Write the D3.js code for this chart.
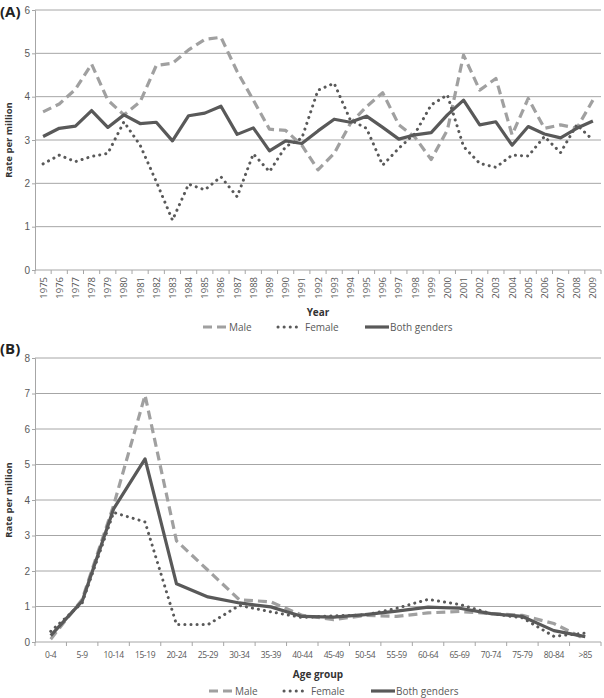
<!DOCTYPE html>
<html><head><meta charset="utf-8">
<script src="https://cdn.jsdelivr.net/npm/d3@7"></script>
<style>body{margin:0;background:#fff}svg{display:block;font-family:"Open Sans","DejaVu Sans",sans-serif}</style>
</head><body><svg id="c" width="604" height="698"></svg>
<script>
const years = d3.range(1975, 2010).map(String);
const maleA = [3.65,3.83,4.17,4.75,3.92,3.58,3.88,4.72,4.77,5.08,5.32,5.37,4.58,3.92,3.25,3.22,2.88,2.31,2.69,3.38,3.77,4.09,3.35,3.06,2.55,3.23,4.96,4.15,4.42,3.12,3.96,3.27,3.35,3.27,3.92];
const femaleA = [2.45,2.65,2.5,2.62,2.69,3.42,2.88,2.04,1.15,1.98,1.85,2.15,1.69,2.68,2.27,2.85,3.04,4.15,4.31,3.46,3.27,2.42,2.81,3.15,3.81,4.04,2.85,2.46,2.37,2.65,2.63,3.08,2.71,3.35,3.0];
const bothA = [3.08,3.27,3.32,3.68,3.29,3.58,3.38,3.41,2.98,3.56,3.62,3.78,3.13,3.28,2.75,2.98,2.92,3.21,3.48,3.41,3.55,3.29,3.02,3.12,3.17,3.58,3.92,3.35,3.42,2.88,3.31,3.14,3.05,3.27,3.44];
const yTicksA = [0,1,2,3,4,5,6];

const ages = ["0-4","5-9","10-14","15-19","20-24","25-29","30-34","35-39","40-44","45-49","50-54","55-59","60-64","65-69","70-74","75-79","80-84",">85"];
const maleB = [0.08,1.2,3.85,6.95,2.85,2.02,1.19,1.13,0.75,0.63,0.75,0.72,0.82,0.86,0.8,0.75,0.52,0.08];
const femaleB = [0.3,1.1,3.65,3.38,0.49,0.49,1.03,0.85,0.69,0.74,0.76,0.95,1.2,1.06,0.8,0.68,0.16,0.25];
const bothB = [0.18,1.15,3.75,5.16,1.64,1.27,1.1,0.99,0.72,0.7,0.77,0.87,0.98,0.95,0.8,0.72,0.32,0.15];
const yTicksB = [0,1,2,3,4,5,6,7,8];

const seriesNames = ["Male","Female","Both genders"];
const svg = d3.select("#c");

const styles = {
  "Male": {stroke:"#a0a0a0", width:3.2, dash:"9,5", cap:"butt"},
  "Female": {stroke:"#595959", width:3, dash:"0.1,6", cap:"round"},
  "Both genders": {stroke:"#595959", width:3.2, dash:null, cap:"butt"}
};

function panel(o){
  const g = svg.append("g");
  const x = d3.scaleBand().domain(o.cats).range([o.x0,o.x1]).padding(0);
  const y = d3.scaleLinear().domain([0,o.ymax]).range([o.y0,o.y1]);
  g.selectAll(".grid").data(o.yticks.filter(t=>t>0)).join("line")
    .attr("x1",o.x0).attr("x2",o.x1).attr("y1",d=>y(d)).attr("y2",d=>y(d))
    .attr("stroke","#a6a6a6").attr("stroke-width",1);
  const ya = d3.axisLeft(y).tickValues(o.yticks).tickSize(3).tickFormat(d3.format("d"));
  const yg = g.append("g").attr("transform",`translate(${o.x0},0)`).call(ya);
  yg.select(".domain").attr("stroke","#a6a6a6");
  yg.selectAll(".tick line").attr("stroke","#a6a6a6");
  yg.selectAll(".tick text").attr("fill","#595959").attr("font-size",10).attr("x",-5);
  const xg = g.append("g").attr("transform",`translate(0,${o.y0})`);
  xg.append("line").attr("x1",o.x0).attr("x2",o.x1).attr("stroke","#a6a6a6");
  const bounds = o.cats.map(c=>x(c)).concat([o.x1]);
  xg.selectAll(".xt").data(bounds).join("line").attr("x1",d=>d).attr("x2",d=>d)
    .attr("y1",0).attr("y2",4).attr("stroke","#a6a6a6");
  if(o.rotate){
    xg.selectAll(".xl").data(o.cats).join("text")
      .attr("transform",d=>`translate(${x(d)+x.bandwidth()/2+3.5},7) rotate(-90)`)
      .attr("text-anchor","end").attr("font-size",9.5).attr("fill","#595959").text(d=>d);
  } else {
    xg.selectAll(".xl").data(o.cats).join("text")
      .attr("x",d=>x(d)+x.bandwidth()/2).attr("y",16)
      .attr("text-anchor","middle").attr("font-size",8.5).attr("letter-spacing",-0.4)
      .attr("fill","#595959").text(d=>d);
  }
  const line = d3.line().x((d,i)=>x(o.cats[i])+x.bandwidth()/2).y(d=>y(d));
  o.series.forEach((vals,k)=>{
    const s = styles[seriesNames[k]];
    g.append("path").datum(vals).attr("d",line).attr("fill","none")
      .attr("stroke",s.stroke).attr("stroke-width",s.width)
      .attr("stroke-dasharray",s.dash).attr("stroke-linecap",s.cap).attr("stroke-linejoin","round");
  });
  g.append("text").attr("x",0).attr("y",o.labelY).attr("font-size",15).attr("font-weight","bold")
    .attr("fill","#222").text(o.label);
  g.append("text").attr("transform",`translate(12,${(o.y0+o.y1)/2}) rotate(-90)`)
    .attr("text-anchor","middle").attr("font-size",9.5).attr("font-weight","bold").attr("fill","#333")
    .text("Rate per million");
  g.append("text").attr("x",(o.x0+o.x1)/2).attr("y",o.xtitleY).attr("text-anchor","middle")
    .attr("font-size",10).attr("font-weight","bold").attr("fill","#333").text(o.xtitle);
  const lx = [203,278,365];
  const tx = [229,305,390];
  seriesNames.forEach((n,k)=>{
    const s = styles[n];
    g.append("line").attr("x1",lx[k]+o.legDx).attr("x2",lx[k]+o.legDx+24)
      .attr("y1",o.legY).attr("y2",o.legY)
      .attr("stroke",s.stroke).attr("stroke-width",s.width)
      .attr("stroke-dasharray",s.dash).attr("stroke-linecap",s.cap);
    g.append("text").attr("x",tx[k]+o.legDx).attr("y",o.legY+4).attr("font-size",10)
      .attr("fill","#595959").text(n);
  });
}

panel({cats:years, series:[maleA,femaleA,bothA], yticks:yTicksA, ymax:6,
  x0:35, x1:601, y0:270, y1:10, rotate:true, label:"(A)", labelY:17,
  xtitle:"Year", xtitleY:316, legY:327, legDx:0});
panel({cats:ages, series:[maleB,femaleB,bothB], yticks:yTicksB, ymax:8,
  x0:35, x1:601, y0:642, y1:358, rotate:false, label:"(B)", labelY:354,
  xtitle:"Age group", xtitleY:678, legY:691, legDx:6});
</script></body></html>
